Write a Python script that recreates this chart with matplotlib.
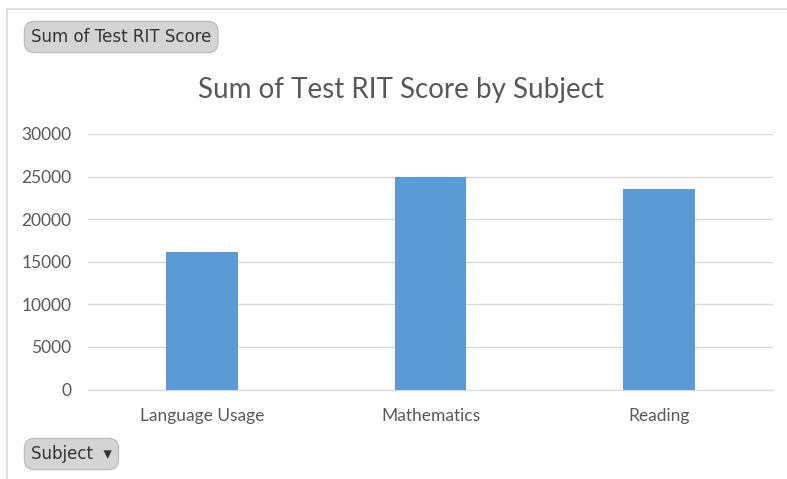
import matplotlib
matplotlib.use("Agg")
import matplotlib.pyplot as plt
from matplotlib.lines import Line2D

categories = ["Language Usage", "Mathematics", "Reading"]
values = [16100, 24900, 23600]
yticks = [0, 5000, 10000, 15000, 20000, 25000, 30000]
title = "Sum of Test RIT Score by Subject"
field_button = "Sum of Test RIT Score"
axis_button = "Subject  \u25BE"

plt.rcParams['font.family'] = ['Lato', 'DejaVu Sans']

W, H = 787, 479
fig = plt.figure(figsize=(W / 100, H / 100), dpi=100)
fig.patch.set_facecolor('white')

def fx(px):
    return px / W

def fy(py):
    return 1 - py / H

ax = fig.add_axes([fx(88), fy(389.5), fx(773) - fx(88), fy(134) - fy(389.5)])
x = list(range(len(categories)))
ax.bar(x, values, width=0.315, color='#5b9bd5', zorder=3)
ax.set_xlim(-0.5, len(categories) - 0.5)
ax.set_ylim(0, 30000)
ax.set_yticks(yticks)
ax.set_yticklabels([str(v) for v in yticks])
ax.set_xticks(x)
ax.set_xticklabels(categories)
ax.grid(axis='y', color='#d9d9d9', linewidth=1, zorder=0)
for s in ['top', 'right', 'left']:
    ax.spines[s].set_visible(False)
ax.spines['bottom'].set_color('#d9d9d9')
ax.tick_params(axis='both', length=0, labelsize=12.5, colors='#595959')
ax.tick_params(axis='y', pad=12)
ax.tick_params(axis='x', pad=13)

fig.text(fx(401), fy(90), title, ha='center', va='center', fontsize=20, color='#595959')

# outer frame lines
fig.add_artist(Line2D([fx(7), fx(787)], [fy(9), fy(9)], color='#d9d9d9', linewidth=1.2))
fig.add_artist(Line2D([fx(7), fx(7)], [fy(9), fy(479)], color='#d9d9d9', linewidth=1.2))

btn = dict(boxstyle='round,pad=0.4,rounding_size=0.6', facecolor='#d4d4d4', edgecolor='#b8b8b8', linewidth=0.8)
fig.text(fx(31), fy(37), field_button, ha='left', va='center', fontsize=12,
         color='#333333', bbox=btn, family=['DejaVu Sans'])
fig.text(fx(31), fy(454), axis_button, ha='left', va='center', fontsize=12,
         color='#333333', bbox=btn, family=['DejaVu Sans'])

fig.savefig('out.png', dpi=100)
